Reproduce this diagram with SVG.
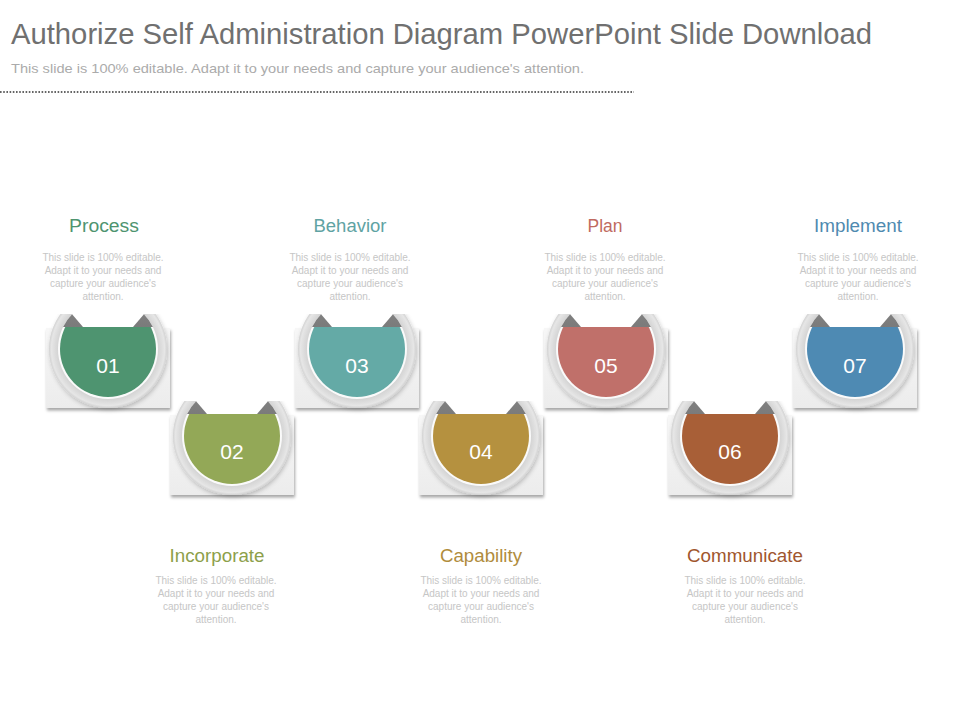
<svg xmlns="http://www.w3.org/2000/svg" xmlns:xlink="http://www.w3.org/1999/xlink" width="960" height="720" viewBox="0 0 960 720">
  <style>
    text { font-family: "Liberation Sans", Arial, sans-serif; }
    .title { font-size: 29px; fill: #707070; }
    .subtitle { font-size: 13px; fill: #ababab; }
    .label { font-size: 17.5px; text-anchor: middle; }
    .desc { font-size: 10px; fill: #c6c6c6; text-anchor: middle; }
    .num { font-size: 21px; fill: #ffffff; text-anchor: middle; }
  </style>
  <defs>
    <linearGradient id="panelGrad" x1="0" y1="0" x2="0" y2="1">
      <stop offset="0" stop-color="#f7f7f7"/>
      <stop offset="1" stop-color="#ececec"/>
    </linearGradient>
    <radialGradient id="ringGrad" cx="0.5" cy="0.5" r="0.5">
      <stop offset="0.84" stop-color="#d3d3d3"/>
      <stop offset="0.9" stop-color="#dcdcdc"/>
      <stop offset="0.96" stop-color="#e6e6e6"/>
      <stop offset="1" stop-color="#d2d2d2"/>
    </radialGradient>
    <linearGradient id="earGrad" x1="0" y1="0" x2="0" y2="1">
      <stop offset="0" stop-color="#858585"/>
      <stop offset="1" stop-color="#616161"/>
    </linearGradient>
    <filter id="panelShadow" x="-10%" y="-10%" width="120%" height="125%">
      <feDropShadow dx="1" dy="2.5" stdDeviation="1.5" flood-color="#000" flood-opacity="0.35"/>
    </filter>
    <filter id="ringShadow" x="-15%" y="-15%" width="130%" height="135%">
      <feDropShadow dx="1" dy="2" stdDeviation="2" flood-color="#000" flood-opacity="0.22"/>
    </filter>
    <clipPath id="ringClip" clipPathUnits="userSpaceOnUse">
      <rect x="-70" y="-35" width="140" height="110"/>
    </clipPath>
    <clipPath id="earClip" clipPathUnits="userSpaceOnUse">
      <rect x="-60" y="-35" width="120" height="13"/>
    </clipPath>
    <clipPath id="holeClip" clipPathUnits="userSpaceOnUse">
      <circle r="50"/>
    </clipPath>
    <clipPath id="fillClip" clipPathUnits="userSpaceOnUse">
      <rect x="-60" y="-22" width="120" height="80"/>
    </clipPath>
    <g id="cup">
      <rect x="-62" y="-21" width="124" height="80" fill="url(#panelGrad)" filter="url(#panelShadow)"/>
      <g clip-path="url(#ringClip)">
        <circle r="59" fill="url(#ringGrad)" filter="url(#ringShadow)"/>
        <circle r="50" fill="#fafafa"/>
      </g>
      <circle r="50" fill="url(#earGrad)" clip-path="url(#earClip)"/>
      <polygon points="-37,-36 37,-36 25,-22 -25,-22" fill="#ffffff" clip-path="url(#holeClip)"/>
    </g>
  </defs>

  <rect width="960" height="720" fill="#ffffff"/>

  <g id="header">
    <text class="title" x="11" y="44" textLength="861" lengthAdjust="spacingAndGlyphs">Authorize Self Administration Diagram PowerPoint Slide Download</text>
    <text class="subtitle" x="11" y="73" textLength="573" lengthAdjust="spacingAndGlyphs">This slide is 100% editable.  Adapt it to your needs and capture your audience's attention.</text>
    <line x1="0" y1="92" x2="634" y2="92" stroke="#333333" stroke-width="1.6" stroke-dasharray="1.6 1.6"/>
  </g>

  <g id="connectors"></g>

  <g id="node-01">
    <g transform="translate(108,349)">
      <use xlink:href="#cup" href="#cup"/>
      <circle r="48" fill="#4e9470" clip-path="url(#fillClip)"/>
      <text class="num" y="24">01</text>
    </g>
    <text class="label" x="104" y="232" fill="#4e9470" textLength="70" lengthAdjust="spacingAndGlyphs">Process</text>
    <text class="desc" x="103" y="261">This slide is 100% editable.</text>
    <text class="desc" x="103" y="274">Adapt it to your needs and</text>
    <text class="desc" x="103" y="287">capture your audience's</text>
    <text class="desc" x="103" y="300">attention.</text>
  </g>

  <g id="node-02">
    <g transform="translate(232,436)">
      <use xlink:href="#cup" href="#cup"/>
      <circle r="48" fill="#93a857" clip-path="url(#fillClip)"/>
      <text class="num" y="23">02</text>
    </g>
    <text class="label" x="217" y="562" fill="#8da04a" textLength="95" lengthAdjust="spacingAndGlyphs">Incorporate</text>
    <text class="desc" x="216" y="584">This slide is 100% editable.</text>
    <text class="desc" x="216" y="597">Adapt it to your needs and</text>
    <text class="desc" x="216" y="610">capture your audience's</text>
    <text class="desc" x="216" y="623">attention.</text>
  </g>

  <g id="node-03">
    <g transform="translate(357,349)">
      <use xlink:href="#cup" href="#cup"/>
      <circle r="48" fill="#64aaa6" clip-path="url(#fillClip)"/>
      <text class="num" y="24">03</text>
    </g>
    <text class="label" x="350" y="232" fill="#5fa3a3" textLength="73" lengthAdjust="spacingAndGlyphs">Behavior</text>
    <text class="desc" x="350" y="261">This slide is 100% editable.</text>
    <text class="desc" x="350" y="274">Adapt it to your needs and</text>
    <text class="desc" x="350" y="287">capture your audience's</text>
    <text class="desc" x="350" y="300">attention.</text>
  </g>

  <g id="node-04">
    <g transform="translate(481,436)">
      <use xlink:href="#cup" href="#cup"/>
      <circle r="48" fill="#b5913f" clip-path="url(#fillClip)"/>
      <text class="num" y="23">04</text>
    </g>
    <text class="label" x="481" y="562" fill="#b08c3c" textLength="82" lengthAdjust="spacingAndGlyphs">Capability</text>
    <text class="desc" x="481" y="584">This slide is 100% editable.</text>
    <text class="desc" x="481" y="597">Adapt it to your needs and</text>
    <text class="desc" x="481" y="610">capture your audience's</text>
    <text class="desc" x="481" y="623">attention.</text>
  </g>

  <g id="node-05">
    <g transform="translate(606,349)">
      <use xlink:href="#cup" href="#cup"/>
      <circle r="48" fill="#c0706a" clip-path="url(#fillClip)"/>
      <text class="num" y="24">05</text>
    </g>
    <text class="label" x="605" y="232" fill="#c06a60" textLength="35" lengthAdjust="spacingAndGlyphs">Plan</text>
    <text class="desc" x="605" y="261">This slide is 100% editable.</text>
    <text class="desc" x="605" y="274">Adapt it to your needs and</text>
    <text class="desc" x="605" y="287">capture your audience's</text>
    <text class="desc" x="605" y="300">attention.</text>
  </g>

  <g id="node-06">
    <g transform="translate(730,436)">
      <use xlink:href="#cup" href="#cup"/>
      <circle r="48" fill="#a85f37" clip-path="url(#fillClip)"/>
      <text class="num" y="23">06</text>
    </g>
    <text class="label" x="745" y="562" fill="#a0562e" textLength="116" lengthAdjust="spacingAndGlyphs">Communicate</text>
    <text class="desc" x="745" y="584">This slide is 100% editable.</text>
    <text class="desc" x="745" y="597">Adapt it to your needs and</text>
    <text class="desc" x="745" y="610">capture your audience's</text>
    <text class="desc" x="745" y="623">attention.</text>
  </g>

  <g id="node-07">
    <g transform="translate(855,349)">
      <use xlink:href="#cup" href="#cup"/>
      <circle r="48" fill="#4e8ab3" clip-path="url(#fillClip)"/>
      <text class="num" y="24">07</text>
    </g>
    <text class="label" x="858" y="232" fill="#4f8ab0" textLength="88" lengthAdjust="spacingAndGlyphs">Implement</text>
    <text class="desc" x="858" y="261">This slide is 100% editable.</text>
    <text class="desc" x="858" y="274">Adapt it to your needs and</text>
    <text class="desc" x="858" y="287">capture your audience's</text>
    <text class="desc" x="858" y="300">attention.</text>
  </g>
</svg>
